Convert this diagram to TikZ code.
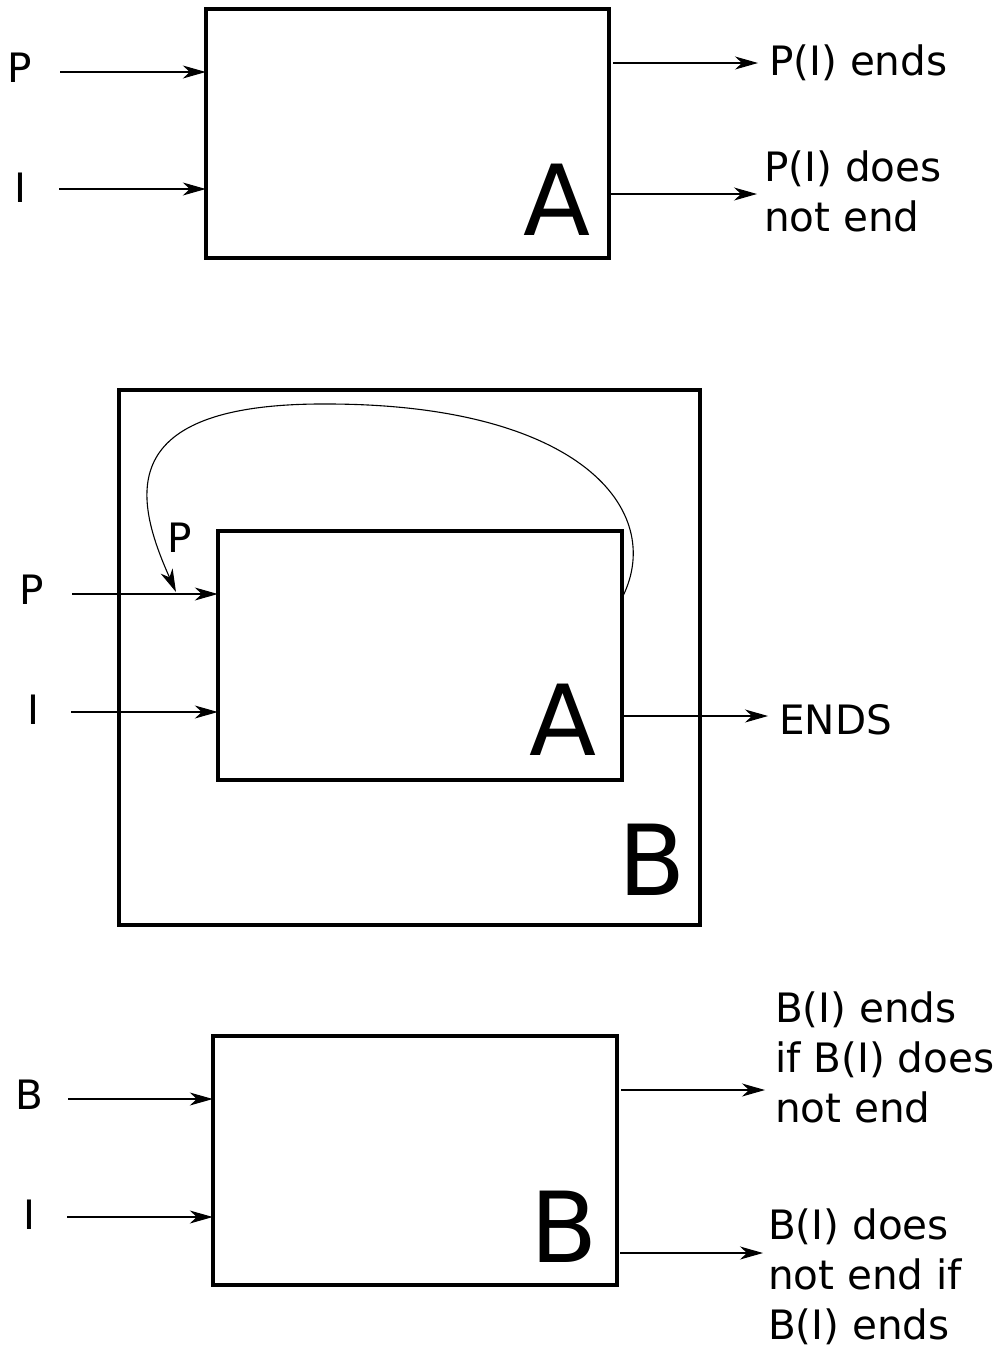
\documentclass[tikz,border=0pt]{standalone}
\usepackage{fontspec}
\setmainfont{DejaVu Sans}
\usetikzlibrary{arrows.meta}
\begin{document}
\begin{tikzpicture}[x=1pt,y=-1pt,
  boxed/.style={draw,line width=3.5pt,inner sep=0pt},
  arr/.style={line width=1.1pt,-{Stealth[length=23pt,width=13pt,inset=7pt]}},
  txt/.style={inner sep=0pt,font=\fontsize{40.5}{50}\selectfont,align=left},
  big/.style={inner sep=0pt,font=\fontsize{98}{110}\selectfont}]
\useasboundingbox (0,0) rectangle (1003,1350);
% ---------- top ----------
\path[boxed] (206,9) rectangle (609,258);
\node[minimum width=403pt,minimum height=249pt,inner sep=0pt] (A1) at (407.5,133.5) {};
\node[big,anchor=base east] (A1l) at (591,235) {A};
\node[txt,anchor=base] (tP) at (20,82) {P};
\node[txt,anchor=base] (tI) at (20,202) {I};
\coordinate (tPs) at (60,72);
\coordinate (tIs) at (59,189);
\draw[arr] (tPs) -- (A1.west |- tPs);
\draw[arr] (tIs) -- (A1.west |- tIs);
\node[txt,anchor=base west] (o1) at (769,75) {P(I) ends};
\node[txt,anchor=base west] (o2) at (764,231) {P(I) does\\not end};
\coordinate (o1s) at (613,63);
\coordinate (o1e) at (758,63);
\coordinate (o2s) at (611,194);
\coordinate (o2e) at (757,194);
\draw[arr] (o1s) -- (o1e);
\draw[arr] (o2s) -- (o2e);
% ---------- middle ----------
\path[boxed] (119,390) rectangle (700,925);
\path[boxed] (218,531) rectangle (622,780);
\node[minimum width=404pt,minimum height=249pt,inner sep=0pt] (A2) at (420,655.5) {};
\node[big,anchor=base east] (A2l) at (597,755) {A};
\node[big,anchor=base east] (B2l) at (686,895) {B};
\node[txt,anchor=base] (mP) at (32,604) {P};
\node[txt,anchor=base] (mI) at (33,724) {I};
\node[txt,anchor=base] (mP2) at (180,552) {P};
\coordinate (mPs) at (72,594);
\coordinate (mIs) at (71,712);
\draw[arr] (mPs) -- (A2.west |- mPs);
\draw[arr] (mIs) -- (A2.west |- mIs);
\coordinate (fbs) at (623,596);
\coordinate (fbt) at (330,404);
\coordinate (fbe) at (176,592);
\draw[arr] (fbs) .. controls (665,510) and (580,405) .. (fbt)
  .. controls (110,402) and (135,500) .. (fbe);
\node[txt,anchor=base west] (ends) at (779,734) {ENDS};
\coordinate (ends s) at (622,716);
\coordinate (ends e) at (768,716);
\draw[arr] (ends s) -- (ends e);
% ---------- bottom ----------
\path[boxed] (213,1036) rectangle (617,1285);
\node[minimum width=404pt,minimum height=249pt,inner sep=0pt] (B3) at (415,1160.5) {};
\node[big,anchor=base east] (B3l) at (598,1262) {B};
\node[txt,anchor=base] (bB) at (29,1109) {B};
\node[txt,anchor=base] (bI) at (29,1229) {I};
\coordinate (bBs) at (68,1099);
\coordinate (bIs) at (67,1217);
\draw[arr] (bBs) -- (B3.west |- bBs);
\draw[arr] (bIs) -- (B3.west |- bIs);
\node[txt,anchor=base west] (q1) at (775,1122) {B(I) ends\\if B(I) does\\not end};
\node[txt,anchor=base west] (q2) at (768,1339) {B(I) does\\not end if\\B(I) ends};
\coordinate (q1s) at (621,1090);
\coordinate (q1e) at (765,1090);
\coordinate (q2s) at (620,1253);
\coordinate (q2e) at (763,1253);
\draw[arr] (q1s) -- (q1e);
\draw[arr] (q2s) -- (q2e);
\end{tikzpicture}
\end{document}
